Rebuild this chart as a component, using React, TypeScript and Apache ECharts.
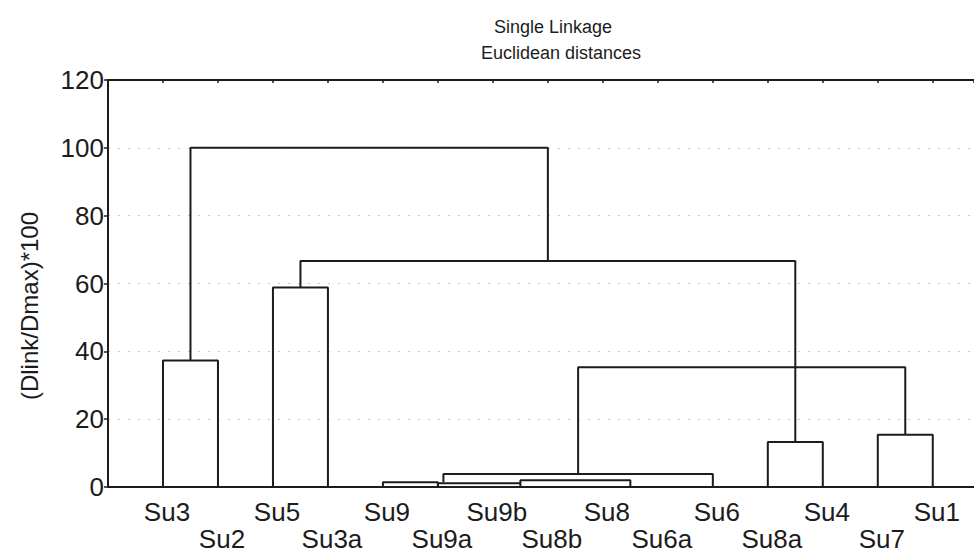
import React, { useEffect, useRef } from "react";
import * as echarts from "echarts";

// Leaves in dendrogram order, placed at x = 1..15
const leafNames = [
  "Su3", "Su2", "Su5", "Su3a", "Su9", "Su9a", "Su9b", "Su8b",
  "Su8", "Su6a", "Su6", "Su8a", "Su4", "Su7", "Su1",
];

// Each link is a bracket: left leg from linkLeftBase up to linkHeight,
// across, then down to linkRightBase on the right leg.
const linkHeight = [37.3, 58.8, 1.4, 1.1, 2.0, 3.8, 13.3, 15.4, 35.3, 66.6, 100];
const linkLeftPos = [1, 3, 5, 6, 7.5, 6.1, 12, 14, 8.55, 3.5, 1.5];
const linkRightPos = [2, 4, 6, 7.5, 9.5, 11, 13, 15, 14.5, 12.5, 8];
const linkLeftBase = [0, 0, 0, 0, 1.1, 1.4, 0, 0, 3.8, 58.8, 37.3];
const linkRightBase = [0, 0, 0, 0, 0, 0, 0, 0, 15.4, 13.3, 66.6];

const yMin = 0;
const yMax = 120;
const yStep = 20;

const FONT = "'Liberation Sans', Arial, Helvetica, sans-serif";
const INK = "#1c1c1c";

export default function App() {
  const ref = useRef<HTMLDivElement>(null);

  useEffect(() => {
    document.body.style.margin = "0";
    if (!ref.current) return;
    const chart = echarts.init(ref.current, undefined, { renderer: "svg" });

    const series = linkHeight.map((h, i) => ({
      type: "line" as const,
      xAxisIndex: 0,
      yAxisIndex: 0,
      symbol: "none",
      silent: true,
      lineStyle: { color: INK, width: 2 },
      data: [
        [linkLeftPos[i], linkLeftBase[i]],
        [linkLeftPos[i], h],
        [linkRightPos[i], h],
        [linkRightPos[i], linkRightBase[i]],
      ],
    }));

    chart.setOption({
      animation: false,
      backgroundColor: "#ffffff",
      title: [
        {
          text: "Single Linkage",
          left: 548,
          top: 13,
          textAlign: "center",
          textStyle: { fontFamily: FONT, fontSize: 18, fontWeight: "normal", color: INK },
        },
        {
          text: "Euclidean distances",
          left: 556,
          top: 39,
          textAlign: "center",
          textStyle: { fontFamily: FONT, fontSize: 18, fontWeight: "normal", color: INK },
        },
      ],
      grid: { left: 108, right: 0, top: 80, bottom: 60, containLabel: false },
      xAxis: [
        {
          type: "value",
          position: "bottom",
          min: 0,
          max: 15.75,
          interval: 1,
          axisLine: { show: true, lineStyle: { color: INK, width: 2 } },
          axisTick: { show: false },
          splitLine: { show: false },
          axisLabel: {
            margin: 11,
            fontFamily: FONT,
            fontSize: 26,
            color: INK,
            lineHeight: 27,
            padding: [0, 0, 0, 8],
            showMinLabel: false,
            showMaxLabel: false,
            formatter: (v: number) => {
              const idx = Math.round(v) - 1;
              if (Math.abs(v - Math.round(v)) > 1e-6 || idx < 0 || idx >= leafNames.length) return "";
              return idx % 2 === 0 ? leafNames[idx] : "\n" + leafNames[idx];
            },
          },
        },
        {
          type: "value",
          position: "top",
          min: 0,
          max: 15.75,
          interval: 1,
          axisLine: { show: true, lineStyle: { color: INK, width: 2 } },
          axisTick: { show: true, inside: true, length: 3, lineStyle: { color: INK, width: 1.5 } },
          axisLabel: { show: false },
          splitLine: { show: false },
        },
      ],
      yAxis: {
        type: "value",
        min: yMin,
        max: yMax,
        interval: yStep,
        axisLine: { show: true, lineStyle: { color: INK, width: 2 } },
        axisTick: { show: true, length: 4, lineStyle: { color: INK, width: 1.5 } },
        axisLabel: { margin: 4, fontFamily: FONT, fontSize: 26, color: INK },
        splitLine: {
          show: true,
          lineStyle: { color: "#c8c8c8", width: 1, type: [2, 8] },
        },
      },
      graphic: [
        {
          type: "text",
          x: 29,
          y: 306,
          rotation: Math.PI / 2,
          style: {
            text: "(Dlink/Dmax)*100",
            fontFamily: FONT,
            fontSize: 24,
            fill: INK,
            align: "center",
            verticalAlign: "middle",
          },
        },
      ],
      series,
    });

    return () => chart.dispose();
  }, []);

  return <div ref={ref} style={{ width: 974, height: 552 }} />;
}
